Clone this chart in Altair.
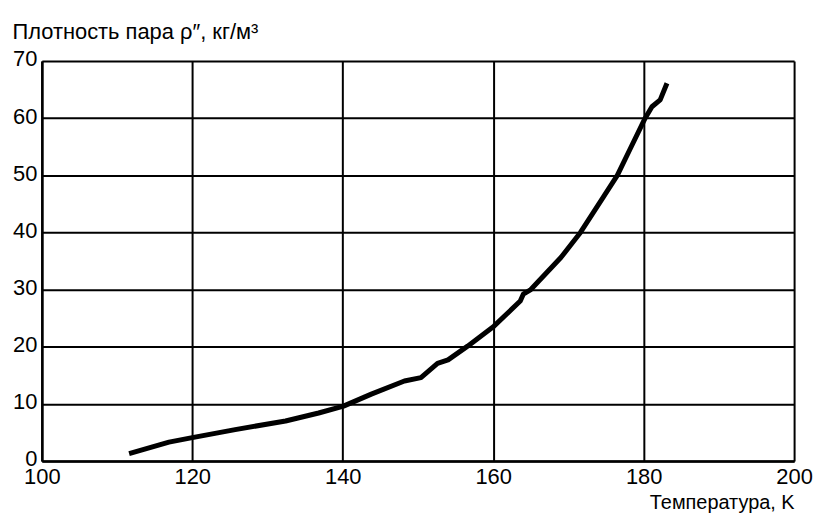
import altair as alt
import pandas as pd

temperature = [111.6, 116.9, 120.0, 125.7, 132.4, 136.8, 140.1, 143.8, 148.2, 150.4,
               152.6, 154.0, 156.6, 160.1, 163.6, 164.0, 165.0, 169.0, 171.6, 174.7,
               176.5, 178.2, 180.2, 181.1, 182.2, 183.1]
density = [1.3, 3.3, 4.1, 5.5, 7.0, 8.4, 9.6, 11.7, 14.0, 14.6,
           17.1, 17.7, 20.1, 23.6, 28.0, 29.2, 30.0, 35.6, 40.0, 46.3,
           50.0, 54.6, 60.0, 62.0, 63.2, 66.1]
x_ticks = [100, 120, 140, 160, 180, 200]
y_ticks = [0, 10, 20, 30, 40, 50, 60, 70]

df = pd.DataFrame({"T": temperature, "rho": density, "order": list(range(len(temperature)))})

font = "Liberation Sans"

chart = alt.Chart(df).mark_line(color="black", strokeWidth=5, strokeCap="butt", strokeJoin="round").encode(
    x=alt.X("T:Q",
            scale=alt.Scale(domain=[100, 200], nice=False, zero=False),
            axis=alt.Axis(values=x_ticks, title="Температура, K", grid=True,
                          gridColor="black", gridWidth=2, gridOpacity=1,
                          domainColor="black", domainWidth=2.5, ticks=False,
                          labelFontSize=22, labelColor="black", labelPadding=6,
                          labelFont=font, labelFlush=False,
                          titleFont=font, titleFontSize=20, titleFontWeight="normal",
                          titleColor="black", titleAnchor="end", titleAlign="right",
                          titleX=756, titleY=48, titleBaseline="alphabetic")),
    y=alt.Y("rho:Q",
            scale=alt.Scale(domain=[0, 70], nice=False),
            axis=alt.Axis(values=y_ticks, title="Плотность пара ρ″, кг/м³", grid=True,
                          gridColor="black", gridWidth=2, gridOpacity=1,
                          domainColor="black", domainWidth=2.5, ticks=False,
                          labelFontSize=22, labelColor="black", labelPadding=5,
                          labelFont=font, labelOffset=-2, labelFlush=False,
                          titleFont=font, titleFontSize=22, titleFontWeight="normal",
                          titleColor="black", titleAngle=0, titleAlign="left",
                          titleX=-30, titleY=-23, titleBaseline="alphabetic")),
    order="order:Q",
).properties(
    width=756,
    height=402,
    autosize=alt.AutoSizeParams(type="none"),
    padding={"left": 34, "top": 52, "right": 20, "bottom": 54},
    background="white",
).configure_view(stroke=None)

chart.save("out.html", embed_options={"renderer": "svg", "actions": False})
